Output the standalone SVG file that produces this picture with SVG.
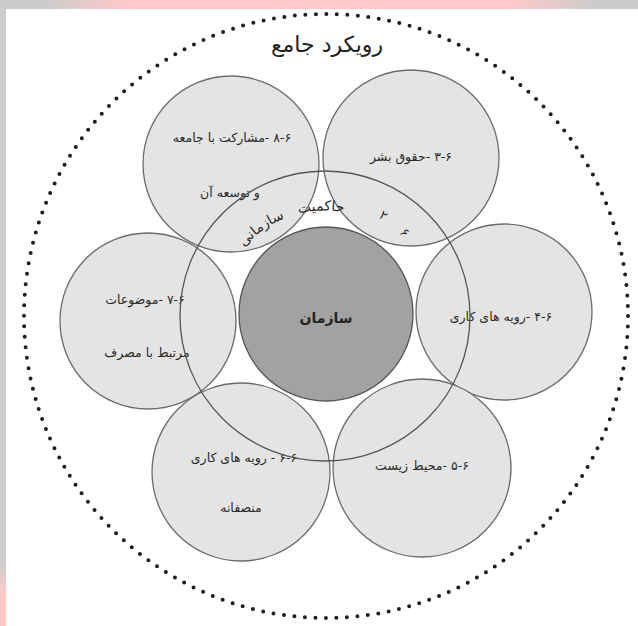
<svg xmlns="http://www.w3.org/2000/svg" width="638" height="626" viewBox="0 0 638 626">
  <defs>
    <linearGradient id="topband" x1="0" y1="0" x2="1" y2="0">
      <stop offset="0" stop-color="#cccccc"/>
      <stop offset="0.07" stop-color="#cccccc"/>
      <stop offset="0.2" stop-color="#ffc9c9"/>
      <stop offset="0.8" stop-color="#ffc9c9"/>
      <stop offset="0.93" stop-color="#cccccc"/>
      <stop offset="1" stop-color="#cccccc"/>
    </linearGradient>
    <linearGradient id="leftband" x1="0" y1="0" x2="0" y2="1">
      <stop offset="0" stop-color="#cccccc"/>
      <stop offset="0.9" stop-color="#cccccc"/>
      <stop offset="0.95" stop-color="#ffc9c9"/>
      <stop offset="1" stop-color="#ffc9c9"/>
    </linearGradient>
    <path id="arcText" d="M228,272 A106,106 0 0,1 372,222"/>
  </defs>
  <style>
    .sub { fill: #e4e4e4; stroke: #6b6b6b; stroke-width: 1.3; }
    .core { fill: #a2a2a2; stroke: #555555; stroke-width: 1.3; }
    .gov { fill: none; stroke: #555555; stroke-width: 1.3; }
    .dots { fill: none; stroke: #1e1e1e; stroke-width: 4; stroke-linecap: round; stroke-dasharray: 0 10.54; }
    text { font-family: "DejaVu Sans", sans-serif; fill: #2a2a2a; direction: rtl; }
    .lbl { font-size: 12.5px; text-anchor: middle; }
    .title { font-size: 22px; text-anchor: middle; fill: #222; }
    .center { font-size: 14px; font-weight: bold; text-anchor: middle; fill: #222; }
    .arc { font-size: 14px; word-spacing: 10px; }
    .num { font-size: 13px; }
  </style>

  <rect x="0" y="0" width="638" height="626" fill="#cccccc"/>
  <rect x="0" y="0" width="638" height="9" fill="url(#topband)"/>
  <rect x="0" y="0" width="6" height="626" fill="url(#leftband)"/>
  <rect x="6" y="9" width="632" height="617" fill="#ffffff"/>

  <g id="outer-ring">
    <circle class="dots" cx="326" cy="316" r="302"/>
    <text class="title" x="327" y="52">رویکرد جامع</text>
  </g>

  <g id="node-6-8">
    <circle class="sub" cx="231" cy="164" r="88"/>
    <text class="lbl" x="232" y="142">۸-۶ -مشارکت با جامعه</text>
    <text class="lbl" x="230" y="197">و توسعه آن</text>
  </g>
  <g id="node-6-3">
    <circle class="sub" cx="411" cy="158" r="88"/>
    <text class="lbl" x="411" y="161">۳-۶ -حقوق بشر</text>
  </g>
  <g id="node-6-4">
    <circle class="sub" cx="504" cy="312" r="88"/>
    <text class="lbl" x="501" y="321">۴-۶ -رویه های کاری</text>
  </g>
  <g id="node-6-7">
    <circle class="sub" cx="148" cy="321" r="88"/>
    <text class="lbl" x="145" y="304">۷-۶ -موضوعات</text>
    <text class="lbl" x="147" y="357">مرتبط با مصرف</text>
  </g>
  <g id="node-6-6">
    <circle class="sub" cx="241" cy="472" r="89"/>
    <text class="lbl" x="244" y="462">۶-۶ - رویه های کاری</text>
    <text class="lbl" x="241" y="512">منصفانه</text>
  </g>
  <g id="node-6-5">
    <circle class="sub" cx="422" cy="468" r="89"/>
    <text class="lbl" x="422" y="470">۵-۶ -محیط زیست</text>
  </g>

  <g id="node-core">
    <circle class="core" cx="326" cy="314" r="87"/>
    <text class="center" x="326" y="323">سازمان</text>
  </g>

  <g id="node-6-2">
    <circle class="gov" cx="325" cy="316" r="145"/>
    <text class="arc"><textPath href="#arcText" startOffset="50%" text-anchor="middle">حاکمیت سازمانی</textPath></text>
    <text class="num" x="0" y="0" transform="translate(384,221) rotate(33)">۲</text>
    <text class="num" x="0" y="0" transform="translate(404,238) rotate(46)">۶</text>
  </g>

  <g id="connectors"></g>
</svg>
